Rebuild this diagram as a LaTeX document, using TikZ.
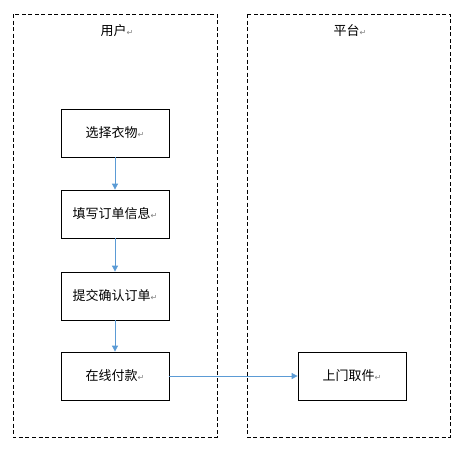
\documentclass[tikz,border=0pt]{standalone}
\usepackage{fontspec}
\setmainfont{Noto Sans CJK SC}
\newfontfamily\symfont{DejaVu Sans}
\usetikzlibrary{arrows.meta}
\definecolor{linkblue}{HTML}{5B9BD5}
\newcommand{\pmark}{{\symfont\fontsize{8}{8}\selectfont\color{gray}↵}}
\tikzset{
  lane/.style={draw, dashed, dash pattern=on 4pt off 2.5pt, line width=0.8pt},
  stepbox/.style={draw, line width=0.8pt, minimum width=108pt, minimum height=48pt, inner sep=0pt, font=\fontsize{13}{13}\selectfont},
  lanelabel/.style={font=\fontsize{13}{13}\selectfont, inner sep=0pt},
  flow/.style={draw=linkblue, line width=0.8pt, -{Triangle[length=6pt,width=6pt]}},
}
\begin{document}
\begin{tikzpicture}[x=1pt,y=-1pt]
\useasboundingbox (0,0) rectangle (470,451);
\draw[lane] (13,14) rectangle (217,437);
\draw[lane] (247,14) rectangle (450,437);
\node[lanelabel] (u) at (117,31) {用户\pmark};
\node[lanelabel] (p) at (350,31) {平台\pmark};
\node[stepbox] (a) at (115,133) {选择衣物\pmark};
\node[stepbox] (b) at (115,214) {填写订单信息\pmark};
\node[stepbox] (c) at (115,296) {提交确认订单\pmark};
\node[stepbox] (d) at (115,376) {在线付款\pmark};
\node[stepbox] (e) at (352,376) {上门取件\pmark};
\draw[flow] (a) -- (b);
\draw[flow] (b) -- (c);
\draw[flow] (c) -- (d);
\draw[flow] (d) -- (e);
\end{tikzpicture}
\end{document}
